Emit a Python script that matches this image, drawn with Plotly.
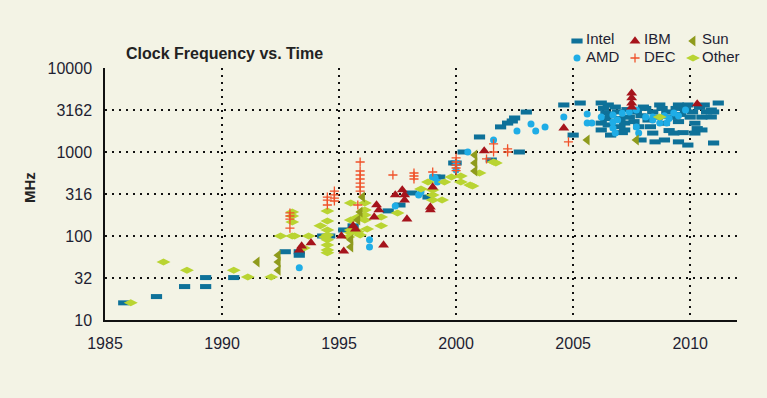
import plotly.graph_objects as go

# ---------------- data ----------------
intel_year = [1985.8, 1987.2, 1988.4, 1989.3, 1989.3, 1990.5, 1992.7, 1993.3, 1993.3, 1994.3,
              1994.6, 1995.2, 1995.6, 1997.1, 1997.6, 1998.1, 1998.8, 1999.1, 1999.3, 1999.9,
              2000.0, 2000.3, 2001.0, 2001.5, 2001.9, 2002.2, 2002.4, 2002.5, 2002.7, 2003.0,
              2004.6, 2005.0, 2005.3, 2006.2, 2006.2, 2006.2, 2006.5, 2006.6, 2006.8, 2007.2,
              2007.2, 2007.9, 2008.0, 2008.4, 2008.5, 2008.7, 2008.9, 2009.3, 2009.5, 2009.5,
              2009.9, 2009.9, 2010.2, 2010.5, 2010.6, 2010.9, 2010.9, 2011.0, 2011.2,
              2006.3, 2006.4, 2006.4, 2006.5, 2006.6, 2006.9, 2007.0, 2007.0, 2007.1, 2007.3,
              2007.4, 2007.6, 2007.7, 2007.8, 2007.9, 2008.1, 2008.2, 2008.3, 2008.4, 2008.6,
              2008.8, 2008.9, 2009.0, 2009.1, 2009.2, 2009.4, 2009.5, 2009.6, 2009.7, 2009.8,
              2010.0, 2010.1, 2010.2, 2010.4, 2010.5, 2010.7, 2010.3, 2011.0]
intel_mhz = [16, 19, 25, 25, 32, 32, 65, 65, 59, 100,
             100, 118, 132, 199, 234, 325, 291, 504, 504, 740,
             740, 1000, 1510, 803, 1990, 2210, 2340, 2540, 1000, 2990,
             3630, 1590, 3830, 3830, 1830, 2210, 3630, 1590, 3430, 2210,
             1830, 1390, 3430, 1680, 1320, 3630, 1390, 1680, 3630, 1320,
             3630, 1210, 1680, 1830, 3630, 2610, 3162, 1280, 3830,
             3300, 2900, 2500, 2100, 2700, 3000, 2500, 2000, 1700, 3200,
             2600, 2300, 3000, 2000, 2700, 3300, 2400, 2000, 3000, 2600,
             3300, 2200, 3000, 1800, 2600, 3300, 2300, 2800, 1700, 3200,
             2600, 3000, 2200, 3400, 2600, 3000, 1900, 3000]

amd_year = [1993.3, 1996.3, 1996.3, 1997.4, 1998.4, 1998.5, 1999.0, 1999.1, 1999.2, 2000.0,
            2000.0, 2000.5, 2001.6, 2002.6, 2003.2, 2003.4, 2003.8, 2004.6, 2005.6, 2005.6,
            2005.8, 2006.2, 2006.7, 2006.7, 2006.7, 2006.8, 2006.9, 2007.1, 2007.4, 2007.7,
            2007.7, 2007.8, 2008.1, 2008.4, 2008.4, 2008.7, 2008.9, 2009.0, 2009.1, 2009.3,
            2009.5, 2009.8]
amd_mhz = [42, 90, 74, 228, 308, 334, 504, 490, 439, 611,
           740, 1000, 1390, 1780, 2150, 1780, 1990, 2610, 2830, 2210,
           2210, 2610, 2760, 2280, 1930, 1680, 2400, 2900, 2990, 1990,
           3162, 1680, 2610, 2400, 2610, 2210, 2700, 2210, 2500, 2910,
           2700, 3162]

ibm_year = [1993.3, 1993.4, 1993.8, 1995.1, 1995.2, 1995.6, 1995.7, 1996.5, 1996.6, 1996.7,
            1996.9, 1997.4, 1997.7, 1997.8, 1997.8, 1997.9, 1998.9, 1998.9, 1999.0, 2001.2,
            2004.6, 2007.5, 2007.5, 2007.5, 2007.5, 2010.3]
ibm_mhz = [68, 76, 83, 100, 66, 132, 121, 168, 234, 204,
           78, 308, 353, 308, 268, 159, 221, 204, 383, 1030,
           1930, 5010, 4400, 3830, 3430, 3730]

dec_year = [1992.9, 1992.9, 1992.9, 1992.9, 1994.5, 1994.5, 1994.5, 1994.8, 1994.8, 1994.8,
            1994.8, 1995.9, 1995.9, 1995.9, 1995.9, 1995.9, 1995.9, 1995.9, 1995.8, 1997.3,
            1998.2, 1998.2, 1998.2, 1999.0, 2000.0, 2000.0, 2000.0, 2000.0, 2000.0, 2001.3,
            2001.6, 2001.6, 2002.2, 2002.2, 2004.8]
dec_mhz = [124, 188, 173, 159, 291, 268, 234, 343, 308, 283,
           261, 760, 594, 532, 477, 427, 383, 343, 234, 532,
           562, 518, 477, 578, 849, 760, 700, 645, 600, 826,
           1250, 1000, 1090, 1000, 1320]

sun_year = [1991.5, 1992.4, 1992.4, 1992.4, 1995.5, 1995.5, 1995.8, 1995.9, 1996.0, 2000.8,
            2000.8, 2000.8, 2005.6, 2007.7]
sun_mhz = [49, 59, 49, 39, 90, 74, 155, 193, 291, 921,
           740, 594, 1390, 1390]

other_year = [1986.1, 1987.5, 1988.5, 1990.5, 1991.1, 1992.1, 1992.5, 1993.0, 1993.1, 1993.7,
              1993.0, 1993.0, 1993.0, 1993.5, 1994.5, 1994.5, 1994.2, 1994.5, 1994.5, 1994.4,
              1994.5, 1994.5, 1994.5, 1994.5, 1995.5, 1996.1, 1996.1, 1996.1, 1996.1, 1995.5,
              1995.8, 1995.5, 1995.7, 1996.2, 1995.9, 1995.5, 1995.8, 1995.4, 1996.8, 1996.8,
              1997.5, 1998.5, 1998.8, 1999.0, 1999.0, 1999.0, 1999.4, 1999.5, 1999.8, 2000.2,
              2000.2, 2000.6, 2000.7, 2001.0, 2001.6, 2001.7, 2008.7]
other_mhz = [16, 49, 39, 39, 32.5, 32.5, 100, 100, 100, 100,
             193, 173, 147, 72, 199, 151, 132, 118, 103, 97,
             90, 78, 68, 63, 247, 247, 204, 178, 155, 155,
             168, 118, 118, 121, 103, 109, 112, 97, 168, 132,
             188, 363, 439, 353, 308, 268, 268, 439, 504, 518,
             439, 404, 394, 562, 760, 740, 2610]

x_ticks = [1985, 1990, 1995, 2000, 2005, 2010]
y_tickvals = [10, 31.62, 100, 316.2, 1000, 3162, 10000]
y_ticktext = ["10", "32", "100", "316", "1000", "3162", "10000"]

legend_row1 = ["Intel", "IBM", "Sun"]
legend_row2 = ["AMD", "DEC", "Other"]

# ---------------- styling ----------------
FONT = "Liberation Sans, Arial, sans-serif"
BG = "#F3F3E5"
TXT = "#1E1E32"
C_INTEL = "#0E7199"
C_AMD = "#1FADE6"
C_IBM = "#A6141C"
C_DEC = "#F0522A"
C_SUN = "#8F9B1C"
C_OTHER = "#B9D432"

W, H = 767, 398
L, R, T, B = 105, 30, 68, 78
pw, ph = W - L - R, H - T - B

# legend geometry (pixels from top-left of the figure)
LEG_X = 557          # left edge of legend box -> first key centre at ~577
KEY_Y1, KEY_Y2 = 41, 58      # key centres
TXT_Y1, TXT_Y2 = 39, 56.5    # label centres
LEG_STEP = 58        # distance between legend entries
LEG_TEXT_DX = 28     # legend left -> label start

fig = go.Figure()


def add(name, xs, ys, symbol, color, size, lw, legend, rank):
    fig.add_trace(go.Scatter(
        x=xs, y=ys, mode="markers", name=name,
        marker=dict(symbol=symbol, size=size, color=color,
                    line=dict(width=lw, color=color)),
        legend=legend, legendrank=rank, hoverinfo="x+y+name",
    ))


add("Intel", intel_year, intel_mhz, "line-ew", C_INTEL, 8, 5, "legend", 1)
add("AMD", amd_year, amd_mhz, "circle", C_AMD, 7, 0, "legend2", 1)
add("Other", other_year, other_mhz, "diamond-wide", C_OTHER, 10, 0, "legend2", 3)
add("Sun", sun_year, sun_mhz, "triangle-left", C_SUN, 9.5, 0, "legend", 3)
add("DEC", dec_year, dec_mhz, "cross-thin", C_DEC, 6.5, 1.3, "legend2", 2)
add("IBM", ibm_year, ibm_mhz, "triangle-up", C_IBM, 9.5, 0, "legend", 2)

axis_common = dict(
    showgrid=True, gridcolor="#111111", griddash="2px,5px", gridwidth=1.5,
    showline=True, linecolor="#111111", linewidth=1.5, ticks="", zeroline=False,
    tickfont=dict(family=FONT, size=16, color=TXT), ticklabelstandoff=8,
)

# the legend draws the keys; its own (tiny, invisible) labels are replaced by
# annotations placed right next to the keys, as in the reference
legend_common = dict(
    orientation="h", xref="container", yref="container", xanchor="left", yanchor="middle",
    entrywidth=LEG_STEP - 45, bgcolor="rgba(0,0,0,0)", borderwidth=0,
    font=dict(family=FONT, size=1, color="rgba(0,0,0,0)"),
    itemclick=False, itemdoubleclick=False,
)

annotations = [
    dict(text="<b>Clock Frequency vs. Time</b>", xref="paper", yref="paper",
         x=(124 - L) / pw, y=(H - B - 53) / ph, xanchor="left", yanchor="middle",
         showarrow=False, font=dict(family=FONT, size=16, color="#222222")),
    dict(text="<b>MHz</b>", xref="paper", yref="paper", textangle=-90,
         x=(29 - L) / pw, y=(H - B - 188) / ph, xanchor="center", yanchor="middle",
         showarrow=False, font=dict(family=FONT, size=15, color="#222222")),
]
for row_y, labels in ((TXT_Y1, legend_row1), (TXT_Y2, legend_row2)):
    for i, lab in enumerate(labels):
        annotations.append(dict(
            text=lab, xref="paper", yref="paper",
            x=(LEG_X + LEG_TEXT_DX + i * LEG_STEP - L) / pw, y=(H - B - row_y) / ph,
            xanchor="left", yanchor="middle", showarrow=False, borderpad=0,
            font=dict(family=FONT, size=15, color=TXT)))

fig.update_layout(
    width=W, height=H,
    margin=dict(l=L, r=R, t=T, b=B, autoexpand=False),
    paper_bgcolor=BG, plot_bgcolor=BG,
    font=dict(family=FONT, color=TXT),
    showlegend=True,
    xaxis=dict(range=[1985, 2012], tickvals=x_ticks, **axis_common),
    yaxis=dict(type="log", range=[1, 4], tickvals=y_tickvals, ticktext=y_ticktext,
               **axis_common),
    legend=dict(x=LEG_X / W, y=1 - KEY_Y1 / H, **legend_common),
    legend2=dict(x=LEG_X / W, y=1 - KEY_Y2 / H, **legend_common),
    annotations=annotations,
)

fig.write_html("out.html", config={"displayModeBar": False},
               post_script="document.body.style.margin='0px';document.body.style.padding='0px';")
